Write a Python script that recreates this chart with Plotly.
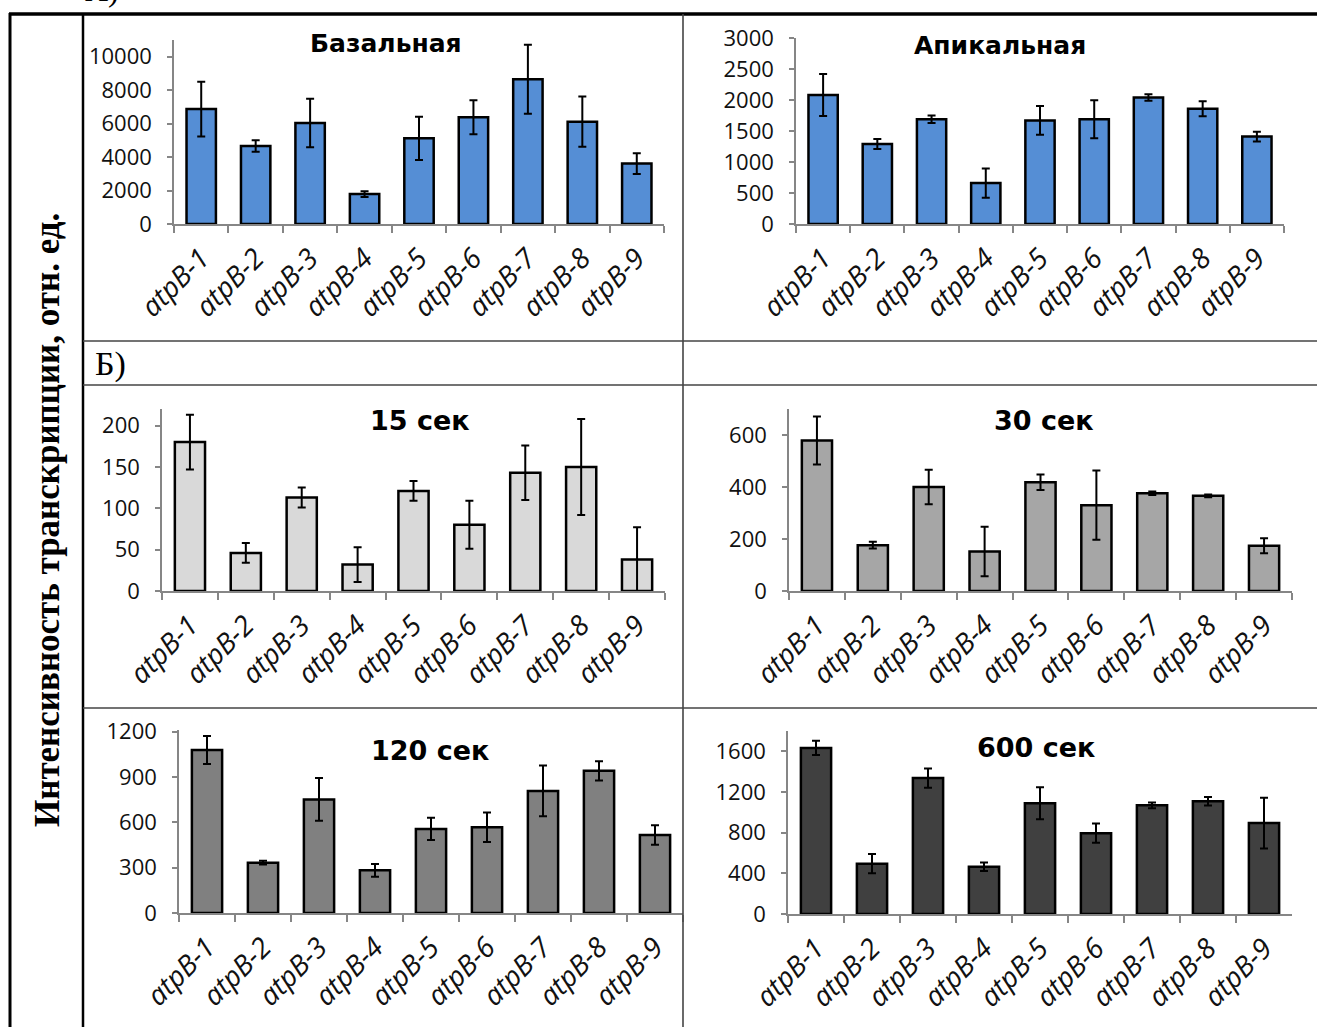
import plotly.graph_objects as go

W, H = 1317, 1027

genes = ['atpB-1', 'atpB-2', 'atpB-3', 'atpB-4', 'atpB-5', 'atpB-6', 'atpB-7', 'atpB-8', 'atpB-9']

basal = [6870, 4660, 6040, 1790, 5120, 6380, 8650, 6120, 3610]
basal_err = [1640, 340, 1445, 170, 1295, 1015, 2060, 1495, 625]
apical = [2080, 1290, 1690, 660, 1670, 1690, 2040, 1860, 1410]
apical_err = [340, 80, 60, 237, 232, 305, 54, 121, 78]
s15 = [180, 46, 113, 32, 121, 80, 143, 150, 38]
s15_err = [33, 12, 12, 21, 12, 29, 33, 58, 39]
s30 = [579, 176, 400, 152, 418, 330, 376, 366, 174]
s30_err = [92, 13, 66, 95, 30, 133, 7, 5, 29]
s120 = [1078, 333, 751, 282, 556, 567, 807, 940, 516]
s120_err = [92, 13, 141, 42, 74, 97, 168, 64, 65]
s600 = [1634, 495, 1337, 465, 1089, 795, 1069, 1109, 894]
s600_err = [71, 94, 95, 41, 157, 94, 28, 41, 250]

titles = ['Базальная', 'Апикальная', '15 сек', '30 сек', '120 сек', '600 сек']
y_title = 'Интенсивность транскрипции, отн. ед.'

series = [basal, apical, s15, s30, s120, s600]
errors = [basal_err, apical_err, s15_err, s30_err, s120_err, s600_err]
colors = ['#558ED5', '#558ED5', '#D9D9D9', '#A6A6A6', '#808080', '#404040']
yranges = [11000, 3000, 220, 700, 1210, 1800]
dticks = [2000, 500, 50, 200, 300, 400]

# panel geometry in pixels: x0, x1, y_top, y_zero
geom = [
    (174, 664, 40, 224),
    (796, 1284, 38, 224),
    (162, 665, 409, 591),
    (789, 1292, 409, 591),
    (179, 683, 730, 913),
    (788, 1292, 731, 914),
]
title_pos = [(386, 43, 25), (1000, 45, 25), (420, 420, 27), (1044, 420, 27), (430, 750, 27), (1036, 747, 27)]

fig = go.Figure()
axis_grey = '#868686'
tick_font = dict(family='Open Sans', size=22, color='#111111')

layout = {}
for i in range(6):
    n = '' if i == 0 else str(i + 1)
    fig.add_trace(go.Bar(
        x=genes, y=series[i],
        error_y=dict(type='data', array=errors[i], visible=True, color='black', thickness=2, width=4),
        marker=dict(color=colors[i], line=dict(color='black', width=2.5)),
        xaxis='x' + n, yaxis='y' + n, showlegend=False,
    ))
    x0, x1, yt, yz = geom[i]
    layout['xaxis' + n] = dict(
        domain=[x0 / W, x1 / W], anchor='y' + n, type='category',
        showline=True, linecolor=axis_grey, linewidth=1.5,
        ticks='outside', tickson='boundaries', ticklen=7, tickcolor=axis_grey, tickwidth=1.5,
        tickangle=-45, tickfont=dict(family='Open Sans', size=28, color='#111111', style='italic'),
        ticklabelstandoff=5,
        showgrid=False, zeroline=False, fixedrange=True, automargin=False,
    )
    layout['yaxis' + n] = dict(
        domain=[1 - yz / H, 1 - yt / H], anchor='x' + n,
        range=[0, yranges[i]], dtick=dticks[i], tick0=0, tickformat='d',
        showline=True, linecolor=axis_grey, linewidth=1.5,
        ticks='outside', ticklen=5, tickcolor=axis_grey, tickwidth=1.5,
        tickfont=tick_font, ticklabelstandoff=11,
        showgrid=False, zeroline=False, fixedrange=True, automargin=False,
    )

annotations = []
for (tx, ty, ts), t in zip(title_pos, titles):
    annotations.append(dict(
        text='<b>' + t + '</b>', x=tx / W, y=1 - ty / H, xref='paper', yref='paper',
        showarrow=False, xanchor='center', yanchor='middle',
        font=dict(family='DejaVu Sans', size=ts, color='black'),
    ))
annotations.append(dict(
    text='<b>' + y_title + '</b>', x=47 / W, y=1 - 520 / H, xref='paper', yref='paper',
    showarrow=False, textangle=-90, xanchor='center', yanchor='middle',
    font=dict(family='Liberation Serif', size=35, color='black'),
))
annotations.append(dict(
    text='Б)', x=93 / W, y=1 - 364 / H, xref='paper', yref='paper',
    showarrow=False, xanchor='left', yanchor='middle',
    font=dict(family='Liberation Serif', size=34, color='black'),
))
annotations.append(dict(
    text='А)', x=121 / W, y=1 - 9.5 / H, xref='paper', yref='paper',
    showarrow=False, xanchor='right', yanchor='bottom',
    font=dict(family='Liberation Serif', size=32, color='black'),
))

def hline(y, x0, x1, color, width):
    return dict(type='line', xref='paper', yref='paper', x0=x0 / W, x1=x1 / W,
                y0=1 - y / H, y1=1 - y / H, line=dict(color=color, width=width))

def vline(x, y0, y1, color, width):
    return dict(type='line', xref='paper', yref='paper', x0=x / W, x1=x / W,
                y0=1 - y0 / H, y1=1 - y1 / H, line=dict(color=color, width=width))

shapes = [
    hline(14, 9, W, 'black', 3.5),
    vline(10, 13, H, 'black', 3),
    vline(83, 14, H, 'black', 2.5),
    vline(683, 14, H, '#444444', 1.6),
    hline(341, 83, W, '#444444', 1.6),
    hline(385, 83, W, '#444444', 1.6),
    hline(708, 83, W, '#444444', 1.6),
]

fig.update_layout(
    width=W, height=H, margin=dict(l=0, r=0, t=0, b=0, autoexpand=False),
    paper_bgcolor='white', plot_bgcolor='white',
    bargap=0.46, showlegend=False, hovermode=False,
    annotations=annotations, shapes=shapes,
    **layout,
)

fig.write_html('out.html', config={'displayModeBar': False},
               post_script="document.body.style.margin='0';document.body.style.padding='0';")
